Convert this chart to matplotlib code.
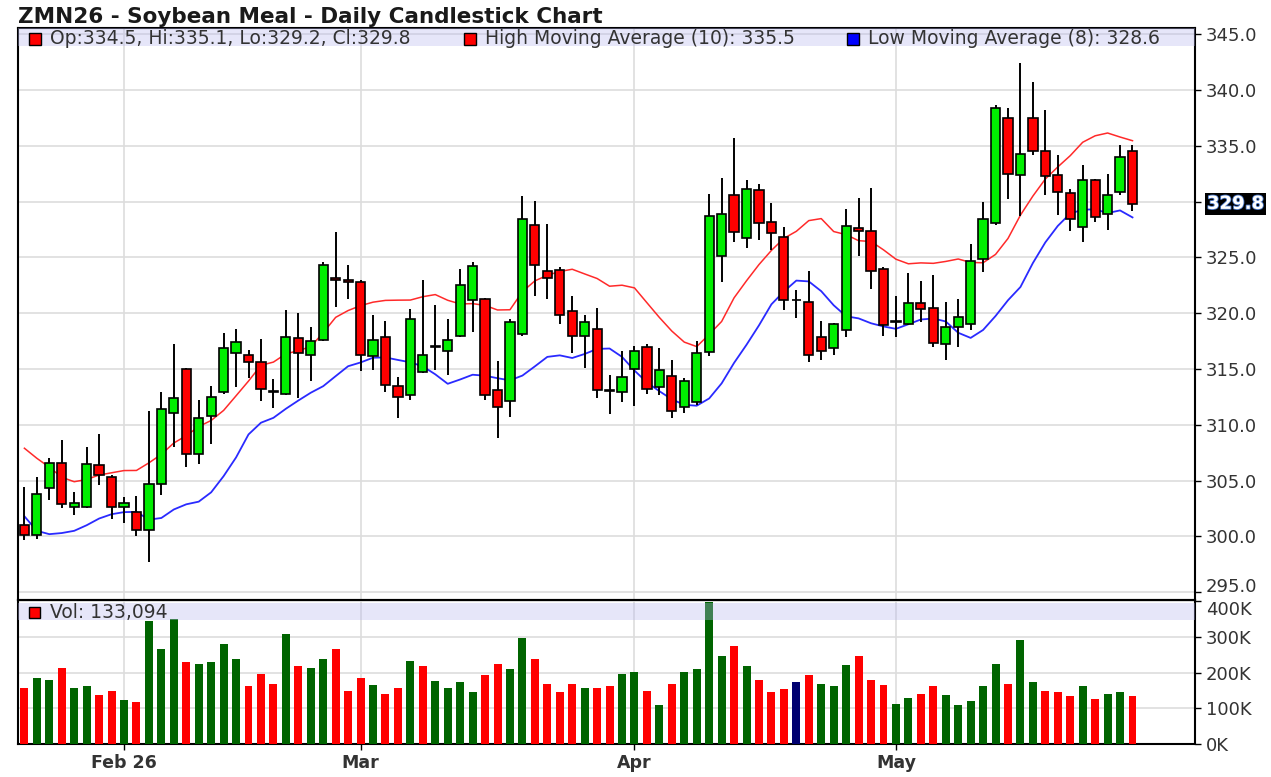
import numpy as np
import pandas as pd
import matplotlib
matplotlib.use("Agg")
import matplotlib.pyplot as plt
from matplotlib.patches import Rectangle
from matplotlib import patheffects

W, H = 1271, 777  # output size in pixels

title = "ZMN26 - Soybean Meal - Daily Candlestick Chart"

# trading sessions on the chart (exchange holidays skipped)
first_day = "2026-01-21"
last_day = "2026-05-29"
holidays = ["2026-02-16", "2026-04-03", "2026-05-25"]

opens = [301.0, 300.1, 304.3, 306.6, 302.6, 302.6, 306.4, 305.3, 302.6, 302.2,
         300.6, 304.7, 311.1, 315.0, 307.4, 310.8, 312.9, 316.4, 316.3, 315.6,
         313.0, 312.8, 317.8, 316.3, 317.6, 323.2, 323.0, 322.8, 316.2, 317.9,
         313.5, 312.7, 314.7, 317.0, 316.6, 318.0, 321.2, 321.3, 313.1, 312.1,
         318.1, 327.9, 323.8, 323.9, 320.2, 318.0, 318.6, 313.1, 312.9, 315.0,
         317.0, 313.4, 314.4, 311.6, 312.0, 316.5, 325.1, 330.6, 326.7, 331.0,
         328.2, 326.8, 321.2, 321.0, 317.9, 316.9, 318.5, 327.6, 327.4, 324.0,
         319.2, 319.0, 320.9, 320.5, 317.2, 318.8, 319.0, 324.9, 328.1, 337.5,
         332.4, 337.5, 334.5, 332.4, 330.8, 327.7, 331.9, 328.9, 330.9, 334.5]
highs = [304.4, 305.3, 307.0, 308.6, 304.0, 308.0, 309.2, 305.5, 303.5, 303.6,
         311.2, 312.9, 317.2, 315.1, 312.2, 313.5, 318.2, 318.6, 316.7, 317.7,
         314.1, 320.3, 320.0, 318.8, 324.6, 327.3, 324.3, 323.0, 319.8, 319.3,
         314.3, 320.4, 323.0, 320.7, 319.5, 324.0, 324.6, 321.4, 315.7, 319.5,
         330.5, 330.1, 328.0, 324.1, 321.5, 319.8, 320.5, 314.5, 316.6, 317.1,
         317.2, 316.9, 315.8, 314.2, 317.5, 330.7, 332.1, 335.7, 331.9, 331.6,
         329.9, 327.7, 322.1, 323.8, 319.3, 319.1, 329.3, 330.3, 331.2, 324.1,
         321.5, 323.6, 322.9, 323.4, 321.0, 321.3, 326.2, 330.0, 338.7, 338.4,
         342.4, 340.7, 338.2, 334.2, 331.1, 333.3, 332.0, 332.5, 335.1, 335.1]
lows = [299.7, 299.8, 303.3, 302.5, 301.9, 302.5, 304.6, 301.6, 301.2, 300.0,
        297.7, 303.7, 308.0, 306.2, 306.5, 308.3, 312.8, 313.4, 314.2, 312.1,
        311.5, 312.7, 312.4, 313.9, 317.5, 320.6, 321.3, 314.8, 314.9, 312.9,
        310.6, 312.2, 314.6, 314.9, 314.5, 317.9, 318.3, 312.2, 308.8, 310.7,
        318.0, 321.5, 321.3, 319.0, 316.4, 315.1, 312.4, 311.0, 312.0, 311.7,
        312.8, 312.7, 310.6, 311.1, 311.8, 316.2, 322.8, 326.4, 325.8, 326.6,
        325.7, 320.3, 319.6, 315.6, 315.8, 316.3, 317.9, 325.1, 322.2, 318.0,
        317.9, 318.9, 319.2, 317.0, 315.8, 317.0, 318.5, 323.7, 327.9, 330.2,
        328.7, 334.2, 330.6, 328.8, 327.4, 326.4, 328.2, 327.5, 330.6, 329.2]
closes = [300.1, 303.8, 306.6, 302.9, 303.0, 306.5, 305.5, 302.6, 303.0, 300.6,
          304.7, 311.4, 312.4, 307.4, 310.6, 312.5, 316.9, 317.4, 315.6, 313.2,
          312.9, 317.9, 316.4, 317.5, 324.3, 323.0, 322.8, 316.3, 317.6, 313.6,
          312.5, 319.5, 316.3, 317.1, 317.6, 322.5, 324.2, 312.7, 311.6, 319.2,
          328.4, 324.3, 323.2, 319.8, 318.0, 319.2, 313.1, 313.0, 314.3, 316.6,
          313.2, 314.9, 311.2, 313.9, 316.4, 328.7, 328.9, 327.3, 331.1, 328.1,
          327.2, 321.2, 321.2, 316.3, 316.6, 319.0, 327.8, 327.4, 323.8, 318.9,
          319.3, 320.9, 320.4, 317.3, 318.8, 319.7, 324.7, 328.4, 338.4, 332.5,
          334.3, 334.5, 332.3, 330.9, 328.4, 331.9, 328.6, 330.6, 334.0, 329.8]
# volume in thousands of contracts
volumes_k = [156, 185, 178, 213, 156, 162, 137, 149, 124, 117,
             345, 265, 349, 229, 225, 229, 281, 237, 161, 197,
             169, 309, 217, 213, 237, 265, 149, 185, 165, 141,
             156, 233, 217, 177, 156, 173, 145, 193, 225, 209,
             297, 237, 169, 145, 169, 156, 156, 161, 197, 201,
             149, 108, 169, 201, 209, 397, 246, 274, 218, 178,
             145, 153, 173, 193, 169, 162, 221, 246, 178, 165,
             113, 129, 141, 162, 137, 108, 121, 162, 225, 169,
             290, 173, 149, 145, 133, 162, 125, 141, 145, 133.094]

# sessions before the window, only needed to warm up the averages
highs_before = [314.3, 315.0, 317.6, 308.0, 306.0, 305.2, 303.5, 301.5, 303.5]
lows_before = [310.2, 305.7, 301.7, 300.3, 298.5, 299.8, 298.5]

price_ticks = [295, 300, 305, 310, 315, 320, 325, 330, 335, 340, 345]
vol_ticks = [0, 100000, 200000, 300000, 400000]

GREEN = '#00ee00'
RED = '#ff0000'
DKGREEN = '#006400'
NAVY = '#000070'
BAND = '#b8b8f0'
GRID = '#dddddd'
TXT = '#333333'
FONT = 'DejaVu Sans'

plt.rcParams['font.family'] = [FONT]

dates = pd.bdate_range(first_day, last_day)
dates = dates[~dates.isin(pd.to_datetime(holidays))]
n = len(dates)
x = np.arange(n)

o = np.array(opens)
hi = np.array(highs)
lo = np.array(lows)
c = np.array(closes)
vol = np.array(volumes_k) * 1000

ma_high = pd.Series(highs_before + highs).rolling(10).mean().to_numpy()[len(highs_before):]
ma_low = pd.Series(lows_before + lows).rolling(8).mean().to_numpy()[len(lows_before):]

# first session of every month
month_idx = [i for i in range(1, n) if dates[i].month != dates[i - 1].month]
month_lbl = [dates[i].strftime('%b %y') if k == 0 else dates[i].strftime('%b')
             for k, i in enumerate(month_idx)]


def fx(px):
    return px / W


def fy(py):
    return 1 - py / H


fig = plt.figure(figsize=(W / 100, H / 100), dpi=100)
fig.patch.set_facecolor('white')

left, right = 18, 1195
ax = fig.add_axes([fx(left), fy(600), fx(right - left), (600 - 28) / H])
axv = fig.add_axes([fx(left), fy(744), fx(right - left), (744 - 600) / H], sharex=ax)

xlim = (-0.514, 94.02)

# ---- price panel ----
ax.vlines(x, lo, hi, color='black', lw=1.4, zorder=3)
body_lo = np.minimum(o, c)
body_h = np.abs(c - o)
body_col = np.where(c >= o, GREEN, RED)
ax.bar(x, body_h, bottom=body_lo, width=0.74, color=body_col,
       edgecolor='black', linewidth=1.2, zorder=4)
ax.plot(x, ma_high, color='#ff2a2a', lw=1.1, zorder=2)
ax.plot(x, ma_low, color='#2a2aff', lw=1.3, zorder=2)

ax.set_xlim(*xlim)
ax.set_ylim(294.3, 345.56)
ax.yaxis.tick_right()
ax.set_yticks(price_ticks)
# the last-price tag sits on top of the tick label nearest to it
tag_tick = min(price_ticks, key=lambda v: abs(v - c[-1]))
ax.set_yticklabels(['' if v == tag_tick else f"{v:.1f}" for v in price_ticks])
ax.tick_params(axis='y', direction='out', length=4, width=1, pad=4,
               labelsize=13, labelcolor=TXT)
ax.get_yticklabels()[0].set_va('baseline')
ax.set_xticks(month_idx)
ax.tick_params(axis='x', length=0, labelbottom=False)
ax.grid(True, color=GRID, lw=1.2, zorder=0)
ax.set_axisbelow(True)
for s in ax.spines.values():
    s.set_linewidth(1.5)

band_h = 18 / 572
ax.add_patch(Rectangle((0, 1 - band_h), 1, band_h, transform=ax.transAxes,
                       fc=BAND, ec='none', alpha=0.35, zorder=6))

# last price tag
ax.text(1.0102, c[-1], f"{c[-1]:.1f}", transform=ax.get_yaxis_transform(),
        ha='left', va='center', fontsize=13, fontweight='bold', color='white',
        bbox=dict(boxstyle='square,pad=0.12', fc='black', ec='none'),
        path_effects=[patheffects.withStroke(linewidth=1.2, foreground='#4a78c8')],
        clip_on=False, zorder=10)

# ---- volume panel ----
prev_close = np.r_[o[0], c[:-1]]
vol_col = np.where(c > prev_close, DKGREEN, np.where(c < prev_close, RED, NAVY))
axv.bar(x, vol, width=0.64, color=vol_col, zorder=3)
axv.set_xlim(*xlim)
axv.set_ylim(0, 403000)
axv.yaxis.tick_right()
axv.set_yticks(vol_ticks)
axv.set_yticklabels([f"{v // 1000}K" for v in vol_ticks])
axv.tick_params(axis='y', direction='out', length=4, width=1, pad=4,
                labelsize=13, labelcolor=TXT)
axv.get_yticklabels()[-1].set_va('top')
axv.set_xticks(month_idx)
axv.set_xticklabels(month_lbl, fontweight='bold')
axv.tick_params(axis='x', direction='out', length=4, width=1, pad=3,
                labelsize=12.5, labelcolor=TXT)
axv.grid(True, color=GRID, lw=1.2, zorder=0)
axv.set_axisbelow(True)
for s in axv.spines.values():
    s.set_linewidth(1.5)
axv.add_patch(Rectangle((0, (744 - 620) / 144), 1, 17 / 144, transform=axv.transAxes,
                        fc=BAND, ec='none', alpha=0.35, zorder=6))

# ---- title and legends ----
fig.text(fx(18), fy(23), title, fontsize=15.5, fontweight='bold', color='#1a1a1a',
         ha='left', va='baseline')

legend_items = [
    (29, RED, f"Op:{o[-1]:.1f}, Hi:{hi[-1]:.1f}, Lo:{lo[-1]:.1f}, Cl:{c[-1]:.1f}"),
    (464, RED, f"High Moving Average (10): {ma_high[-1]:.1f}"),
    (847, '#0000ff', f"Low Moving Average (8): {ma_low[-1]:.1f}"),
]
for px, col, label in legend_items:
    fig.add_artist(Rectangle((fx(px), fy(45)), 12 / W, 12 / H, transform=fig.transFigure,
                             fc=col, ec='black', lw=1.0))
    fig.text(fx(px + 21), fy(44), label, fontsize=13.5, color=TXT,
             ha='left', va='baseline')

fig.add_artist(Rectangle((fx(29), fy(618)), 11 / W, 11 / H, transform=fig.transFigure,
                         fc=RED, ec='black', lw=1.0))
fig.text(fx(50), fy(618), f"Vol: {int(round(vol[-1])):,}", fontsize=13.5, color=TXT,
         ha='left', va='baseline')

fig.savefig("out.png", dpi=100, facecolor='white')
